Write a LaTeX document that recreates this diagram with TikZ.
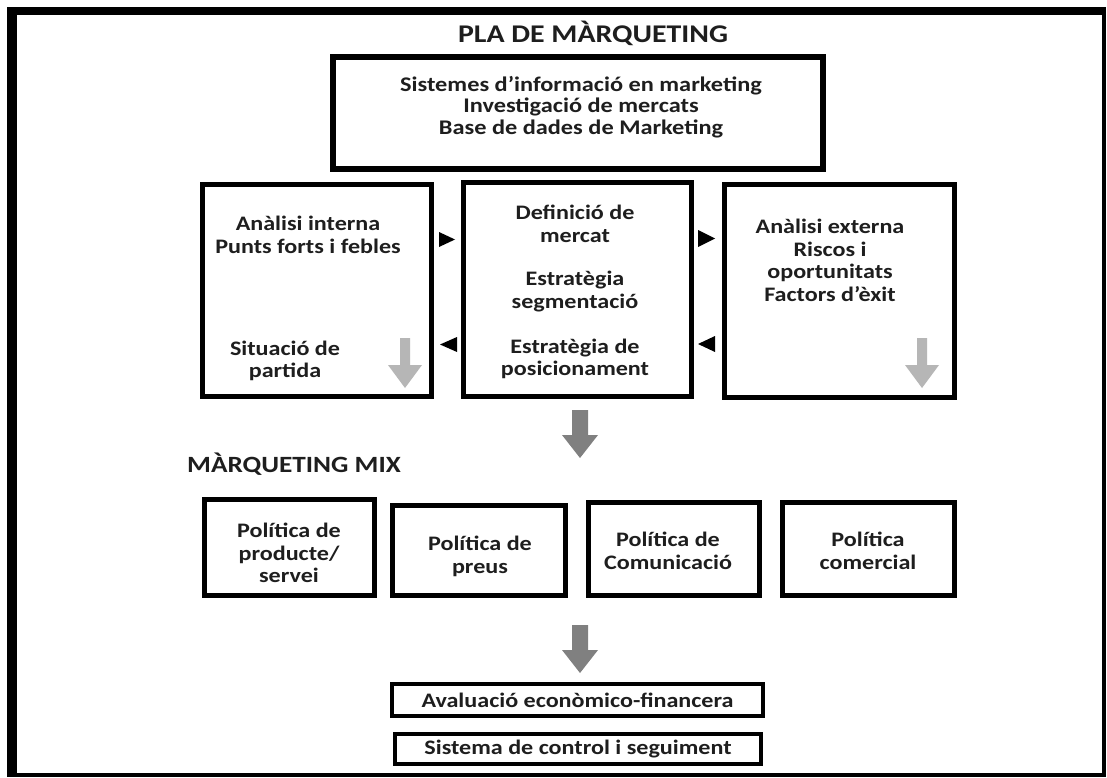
\documentclass[tikz,border=0pt]{standalone}
\usepackage{fontspec}
\setmainfont{Carlito}[FakeStretch=1.17]
\begin{document}
\definecolor{ink}{RGB}{30,30,30}
\definecolor{arrowdark}{RGB}{128,128,128}
\definecolor{arrowlight}{RGB}{182,182,182}
\begin{tikzpicture}[x=1pt,y=-1pt,
  box/.style={draw=black, line width=5pt, fill=white, inner sep=0pt},
  txt/.style={align=center, inner sep=0pt, text=ink,
              font=\bfseries\fontsize{20.6}{22.5}\selectfont},
  head/.style={inner sep=0pt, text=ink, anchor=base},
  pics/bigdown/.style={code={
    \fill[arrowdark] (-8,0) -- (8,0) -- (8,25) -- (18,25) -- (0,48)
      -- (-18,25) -- (-8,25) -- cycle;}},
  pics/smalldown/.style={code={
    \fill[arrowlight] (-5,0) -- (5,0) -- (5,27) -- (17,27) -- (0,50)
      -- (-17,27) -- (-5,27) -- cycle;}},
]
\useasboundingbox (0,0) rectangle (1107,778);
\fill[white] (0,0) rectangle (1107,778);

% outer frame: heavy left and top, light right and bottom
\fill[black] (7,7) rectangle (17,777);
\fill[black] (7,7) rectangle (1106,15);
\fill[black] (1102,7) rectangle (1106,777);
\fill[black] (7,773) rectangle (1106,777);

% title
\node[head, font=\bfseries\fontsize{25.5}{28}\selectfont] (title) at (593,43) {PLA DE MÀRQUETING};

% information systems
\node[box, line width=6pt, minimum width=490pt, minimum height=112pt] (info) at (578,113) {};
\node[txt, font=\bfseries\fontsize{20.8}{21.5}\selectfont] (infot) at (581,107)
  {Sistemes d’informació en marketing\\Investigació de mercats\\Base de dades de Marketing};

% analysis row
\node[box, minimum width=229pt, minimum height=212pt] (intern) at (317,290.5) {};
\node[box, minimum width=228pt, minimum height=214pt] (market) at (577.5,289.5) {};
\node[box, minimum width=230pt, minimum height=213pt] (extern) at (839.5,291) {};

\node[txt] (internA) at (308,235) {Anàlisi interna\\Punts forts i febles};
\node[txt] (internB) at (285,361) {Situació de\\partida};
\node[txt] (marketA) at (575,224) {Definició de\\mercat};
\node[txt] (marketB) at (575,291.5) {Estratègia\\segmentació};
\node[txt] (marketC) at (575,359) {Estratègia de\\posicionament};
\node[txt] (externA) at (830,260.5) {Anàlisi externa\\Riscos i\\oportunitats\\Factors d’èxit};

% exchange markers between the analysis boxes
\fill[black] (439,232) -- (455,239.5) -- (439,247) -- cycle;
\fill[black] (457,337) -- (440,344.5) -- (457,352) -- cycle;
\fill[black] (698,230) -- (715,238.5) -- (698,247) -- cycle;
\fill[black] (715,336) -- (698,344) -- (715,352) -- cycle;

% downward flow inside the side boxes
\pic at (405,338) {smalldown};
\pic at (922,338) {smalldown};

% towards the marketing mix
\pic at (580,410) {bigdown};

\node[head, font=\bfseries\fontsize{23.3}{26}\selectfont] (mix) at (294,472) {MÀRQUETING MIX};

% marketing mix policies
\node[box, minimum width=170pt, minimum height=96pt] (prod) at (289.5,547.5) {};
\node[box, minimum width=173pt, minimum height=90pt] (price) at (479,550.5) {};
\node[box, minimum width=171pt, minimum height=93pt] (comm) at (674,549) {};
\node[box, minimum width=172pt, minimum height=93pt] (sales) at (868.5,549) {};

\node[txt] (prodt) at (289,553) {Política de\\producte/\\servei};
\node[txt] (pricet) at (480,556.5) {Política de\\preus};
\node[txt] (commt) at (668,551) {Política de\\Comunicació};
\node[txt] (salest) at (868,551) {Política\\comercial};

% towards evaluation
\pic at (580,625) {bigdown};

\node[box, line width=4pt, minimum width=371pt, minimum height=32pt, txt] (eval) at (577.5,700)
  {Avaluació econòmico-financera};
\node[box, line width=4pt, minimum width=366pt, minimum height=30pt, txt] (ctrl) at (578,749)
  {Sistema de control i seguiment};
\end{tikzpicture}
\end{document}
